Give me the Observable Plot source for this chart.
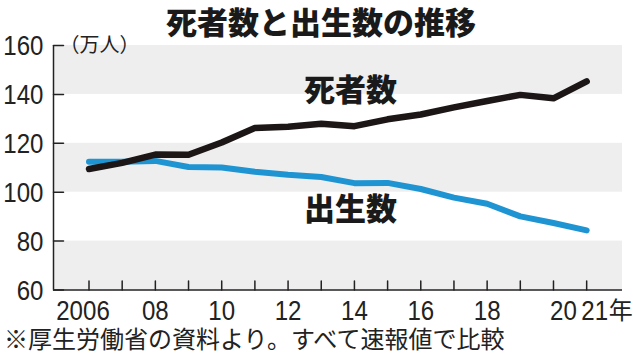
<!DOCTYPE html>
<html><head><meta charset="utf-8">
<script src="https://cdn.jsdelivr.net/npm/d3@7"></script>
<script src="https://cdn.jsdelivr.net/npm/@observablehq/plot@0.6"></script>
<style>
body{margin:0;background:#fff;width:633px;height:356px;position:relative;overflow:hidden;font-family:"Noto Sans CJK JP",sans-serif;}
#title{position:absolute;top:3px;left:166px;font-size:31px;font-weight:900;line-height:36px;color:#1a1a1a;white-space:nowrap;}
#chart{position:absolute;top:28px;left:0;}
#chart svg{overflow:visible;}
#caption{position:absolute;top:324px;left:4px;font-size:24px;line-height:28px;color:#222;white-space:nowrap;}
</style>
</head><body>
<div id="title">死者数と出生数の推移</div>
<div id="chart"></div>
<div id="caption">※厚生労働省の資料より。すべて速報値で比較</div>
<script>
// ---- data ----
const years  = [2006,2007,2008,2009,2010,2011,2012,2013,2014,2015,2016,2017,2018,2019,2020,2021];
const deaths = [109.5,112.0,115.4,115.3,120.3,126.3,126.8,128.0,127.0,129.8,131.8,134.7,137.3,139.8,138.4,145.3];
const births = [112.5,112.5,112.8,110.3,110.1,108.4,107.1,106.2,103.7,103.8,101.3,97.8,95.3,90.1,87.4,84.4];
const yTicks = [60,80,100,120,140,160];
const yTickLabels = ["60","80","100","120","140","160"];
const xLabelYears = [2006,2008,2010,2012,2014,2016,2018];
const xLabelTexts = ["2006","08","10","12","14","16","18"];
const bandLow  = [60,100,140];
const bandHigh = [80,120,160];
const seriesNames = ["死者数","出生数"];
const seriesLabelX = [2013.88,2013.88];
const seriesLabelY = [141.2,92.6];
const unitLabel = "（万人）";

const xmin = 2004.93, xmax = 2022.08;
const deathRows = years.map((y,i)=>({year:y, v:deaths[i]}));
const birthRows = years.map((y,i)=>({year:y, v:births[i]}));
const bands = bandLow.map((lo,i)=>({lo, hi:bandHigh[i]}));
const labels = seriesNames.map((n,i)=>({n, x:seriesLabelX[i], y:seriesLabelY[i]}));
const tickShape = {draw(ctx, l){ ctx.moveTo(0,0); ctx.lineTo(0,-l); }};
const numFont = "Liberation Sans, Arial, sans-serif";
const ink = "#222";
const numText = {fontSize:28, fontFamily:numFont, fill:ink};

const chart = Plot.plot({
  width: 633, height: 296,
  marginTop: 17, marginBottom: 34.5, marginLeft: 53, marginRight: 11,
  x: {domain:[xmin,xmax], axis:null},
  y: {domain:[60,160], axis:null},
  marks: [
    Plot.rect(bands, {x1: xmin, x2: xmax, y1:"lo", y2:"hi", fill:"#eeeeee"}),
    Plot.vector(years, {x:d=>d, y:60, length:9, rotate:0, anchor:"start", shape:tickShape, stroke:ink, strokeWidth:1.5}),
    Plot.vector(yTicks, {x:xmin, y:d=>d, length:10, rotate:90, anchor:"start", shape:tickShape, stroke:ink, strokeWidth:1.5}),
    Plot.ruleX([xmin], {y1:60, y2:160, stroke:ink, strokeWidth:1.5}),
    Plot.ruleY([60], {x1:xmin, x2:xmax, stroke:ink, strokeWidth:1.5}),
    Plot.line(birthRows, {x:"year", y:"v", stroke:"#1f94d2", strokeWidth:6, strokeLinecap:"round", strokeLinejoin:"round"}),
    Plot.line(deathRows, {x:"year", y:"v", stroke:"#1c1616", strokeWidth:6.5, strokeLinecap:"round", strokeLinejoin:"round"}),
    Plot.text(yTicks, {x:xmin, y:d=>d, text:(d,i)=>yTickLabels[i], textAnchor:"end", dx:-10, dy:1, ...numText}),
    Plot.text(xLabelYears, {x:d=>d, y:60, text:(d,i)=>xLabelTexts[i], dy:21, filter:(d,i)=>i>0, ...numText}),
    Plot.text([xLabelYears[0]], {x:d=>d, y:60, text:[xLabelTexts[0]], dy:21, dx:-6, ...numText}),
    Plot.text([2020], {x:d=>d, y:60, text:["20"], dy:21, dx:10, ...numText}),
    Plot.text([2021], {x:d=>d, y:60, text:["21"], dy:21, dx:8, ...numText}),
    Plot.text([2021], {x:d=>d, y:60, text:["年"], dy:21, dx:22, textAnchor:"start", fontSize:24, fontFamily:"Noto Sans CJK JP", fill:ink}),
    Plot.text([160], {x:xmin, y:d=>d, text:[unitLabel], textAnchor:"start", dx:6, dy:0, fontSize:20, fontFamily:"Noto Sans CJK JP", fill:ink}),
    Plot.text(labels, {x:"x", y:"y", text:"n", fontSize:31, fontWeight:900, fontFamily:"Noto Sans CJK JP", fill:"#1a1a1a"})
  ]
});
// condense the number glyphs horizontally (the reference uses a narrow face)
chart.querySelectorAll('g[font-family^="Liberation"] text').forEach(t => {
  let tr = t.getAttribute("transform");
  if (!tr) {
    const x = +(t.getAttribute("x") || 0), y = +(t.getAttribute("y") || 0);
    t.removeAttribute("x"); t.removeAttribute("y");
    tr = `translate(${x},${y})`;
  }
  t.setAttribute("transform", tr + " scale(0.86,1)");
});
document.getElementById("chart").appendChild(chart);
</script>
</body></html>
